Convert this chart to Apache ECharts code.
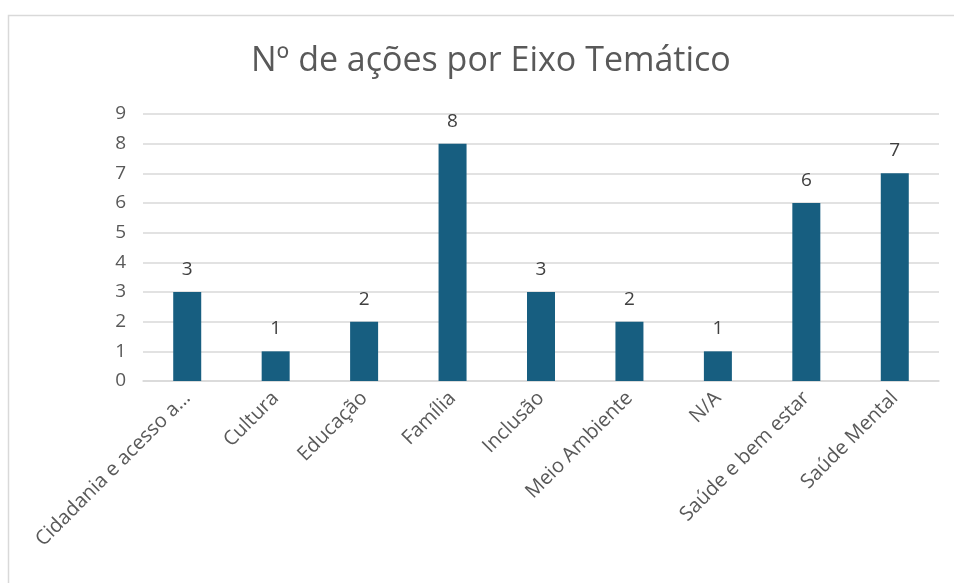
<!DOCTYPE html>
<html>
<head>
<meta charset="utf-8">
<script src="https://cdn.jsdelivr.net/npm/echarts@6/dist/echarts.min.js"></script>
<style>
  html, body { margin: 0; padding: 0; background: #fff; }
  #chart { width: 954px; height: 583px; }
</style>
</head>
<body>
<div id="chart"></div>
<script>
const categories = ['Cidadania e acesso a…', 'Cultura', 'Educação', 'Família', 'Inclusão', 'Meio Ambiente', 'N/A', 'Saúde e bem estar', 'Saúde Mental']
const acoes = [3, 1, 2, 8, 3, 2, 1, 6, 7]

const chart = echarts.init(document.getElementById('chart'))
const font = '"Open Sans", "Noto Sans", sans-serif'

chart.setOption({
  animation: false,
  textStyle: { fontFamily: font },
  graphic: [{
    type: 'rect',
    shape: { x: 8.5, y: 15.5, width: 980, height: 600 },
    style: { fill: 'none', stroke: '#d9d9d9', lineWidth: 1.5 },
    silent: true
  }],
  title: {
    text: 'Nº de ações por Eixo Temático',
    left: 246,
    top: 39,
    textStyle: { fontSize: 34, fontWeight: 'normal', color: '#595959', fontFamily: font }
  },
  grid: { left: 143, right: 15, top: 114, bottom: 202 },
  xAxis: {
    type: 'category',
    data: categories,
    axisLine: { lineStyle: { color: '#d9d9d9', width: 1.5 } },
    axisTick: { show: false },
    axisLabel: { rotate: 45, interval: 0, fontSize: 20, color: '#595959', margin: 14 }
  },
  yAxis: {
    type: 'value',
    min: 0,
    max: 9,
    interval: 1,
    axisLine: { show: false },
    axisTick: { show: false },
    axisLabel: { fontSize: 19, color: '#595959', margin: 17 },
    splitLine: { lineStyle: { color: '#d9d9d9', width: 1.5 } }
  },
  series: [{
    type: 'bar',
    data: acoes,
    barWidth: 28,
    itemStyle: { color: '#175e80' },
    label: { show: true, position: 'top', distance: 13, fontSize: 19, color: '#404040' }
  }]
})
</script>
</body>
</html>
